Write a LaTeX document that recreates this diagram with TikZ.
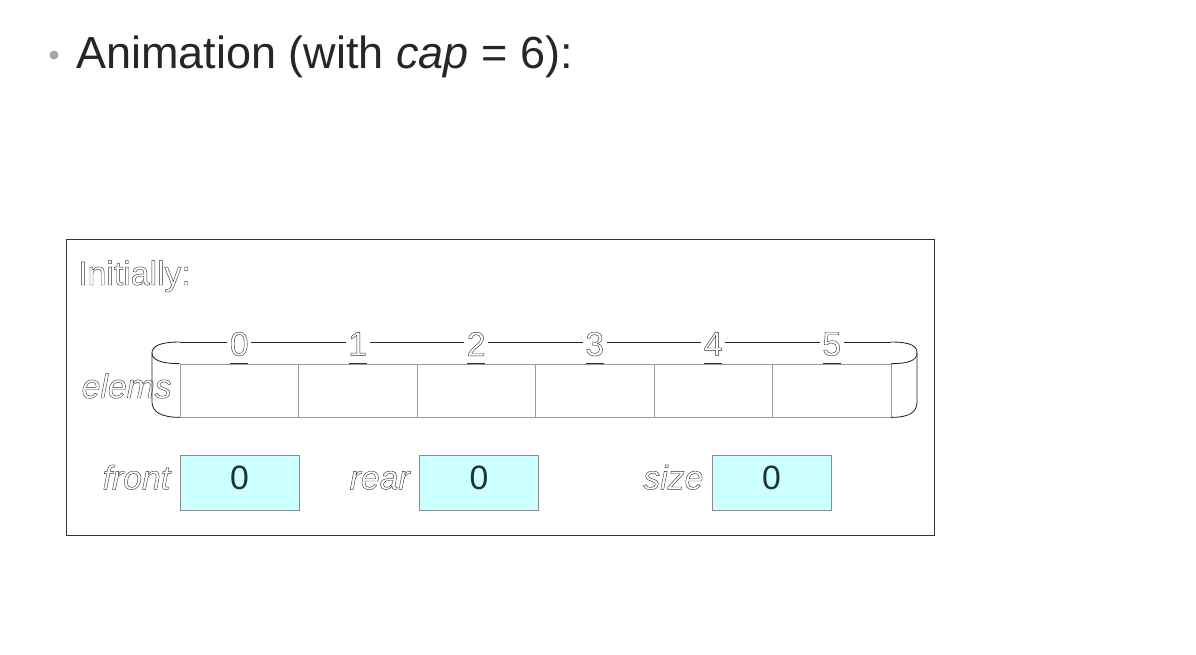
\documentclass[tikz,border=0pt]{standalone}
\usepackage{fontspec}
\setmainfont{Liberation Sans}
\usepackage{xcolor}
\usetikzlibrary{positioning}
\definecolor{boxfill}{HTML}{CCFFFF}
\definecolor{digitcol}{HTML}{1E3434}
\definecolor{titlecol}{HTML}{262626}
\newcommand{\hollow}[1]{\special{pdf:literal direct 1 Tr 0.3 w}#1\special{pdf:literal direct 0 Tr}}

\begin{document}
\begin{tikzpicture}[
			x=0.025cm, y=-0.025cm,
			every node/.style={font=\fontsize{24}{28}\selectfont},
			cell/.style={draw=gray!80, line width=0.5pt, minimum width=2.9625cm, minimum height=1.325cm, inner sep=0pt},
			regbox/.style={draw=gray!90, line width=0.5pt, fill=boxfill, minimum width=2.975cm, minimum height=1.375cm, inner sep=0pt, text depth=0.25cm, text=digitcol},
			lbl/.style={inner sep=0pt, text=black!80},
			idx/.style={fill=white, inner sep=2pt, text=black!80},
			tray/.style={line width=0.6pt, black!85},
			tick/.style={line width=1pt, black!80}
			]
			\useasboundingbox (0,0) rectangle (1196,654);
			
			% Title
			\fill[gray!70] (54,55) circle (4.5);
			\node (title) [anchor=base west, inner sep=0pt, text=titlecol, font=\fontsize{32}{38}\selectfont] at (76,68) {Animation (with \textit{cap} = 6):};
			
			% Frame
			\draw[black!80, line width=0.7pt] (66,239) rectangle (934,535);
			\node (initially) [lbl, anchor=base west] at (78,285) {\hollow{Initially:}};
			
			% Nodes
			\coordinate (topL) at (180,342);
			\coordinate (topR) at (891,342);
			\draw[tray] (topL) -- (topR);
			\foreach \i in {0,...,5} {
				\node (c\i) [cell] at ({239.25+118.5*\i},390.5) {};
				\node (idx\i) [idx] at ({239.25+118.5*\i},344) {\hollow{\i}};
				\draw[tick] (c\i.north) ++(-9,0) -- ++(18,0);
			}
			\node (elems) [lbl, anchor=base east] at (172,398) {\hollow{\textit{elems}}};
			
			\node (front) [regbox] at (239.5,482.5) {0};
			\node (rear) [regbox] at (479,482.5) {0};
			\node (size) [regbox] at (771.5,482.5) {0};
			\node (frontlbl) [lbl, anchor=base east] at ([xshift=-0.2cm]front.base west) {\hollow{\textit{front}}};
			\node (rearlbl) [lbl, anchor=base east] at ([xshift=-0.2cm]rear.base west) {\hollow{\textit{rear}}};
			\node (sizelbl) [lbl, anchor=base east] at ([xshift=-0.2cm]size.base west) {\hollow{\textit{size}}};
			
			% Connections
			\draw[tray] (topL) .. controls +(-20,0) and +(0,-7) .. (152,353) .. controls +(0,7) and +(-18,0) .. (c0.north west);
			\draw[tray] (152,353) -- (152,402) .. controls +(0,10) and +(-18,0) .. (c0.south west);
			\draw[tray] (topR) .. controls +(20,0) and +(0,-7) .. (917,353) .. controls +(0,7) and +(18,0) .. (c5.north east);
			\draw[tray] (917,353) -- (917,402) .. controls +(0,10) and +(18,0) .. (c5.south east);
			
		\end{tikzpicture}
\end{document}
